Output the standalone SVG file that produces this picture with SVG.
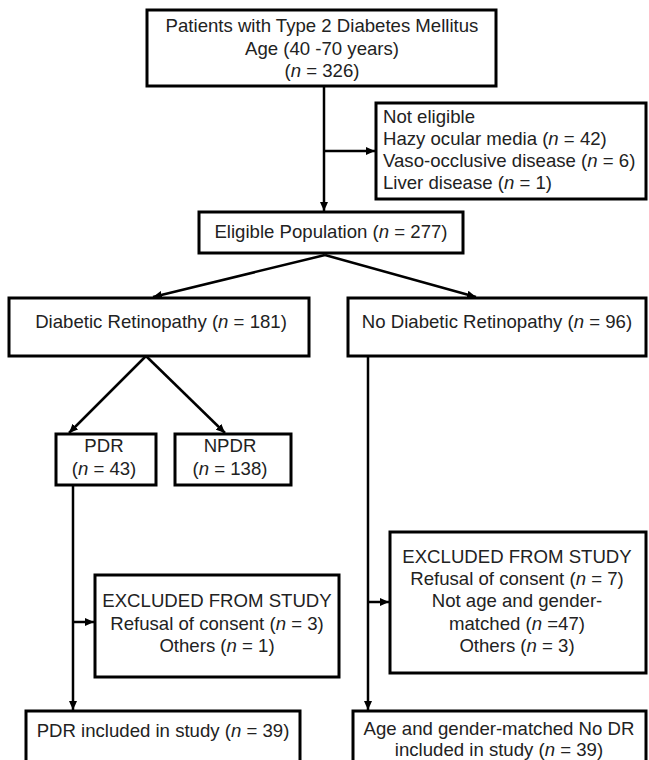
<svg xmlns="http://www.w3.org/2000/svg" width="649" height="760" viewBox="0 0 649 760">
<style>
.box{fill:#fff;stroke:#000;stroke-width:3}
.t{font-family:"Liberation Sans",Arial,sans-serif;font-size:18.6px;fill:#222}
.c{text-anchor:middle}
.i{font-style:italic}
.ln{fill:none;stroke:#000;stroke-width:2.5}
</style>
<defs>
<marker id="ah" markerUnits="userSpaceOnUse" markerWidth="9" markerHeight="8" refX="9" refY="4" orient="auto">
<path d="M0,0 L9,4 L0,8 z" fill="#000"/>
</marker>
</defs>
<g id="connectors">
<path class="ln" d="M324,86 V211" marker-end="url(#ah)"/>
<path class="ln" d="M324,151 H375" marker-end="url(#ah)"/>
<path class="ln" d="M325,255 L153,297" marker-end="url(#ah)"/>
<path class="ln" d="M325,255 L476,297" marker-end="url(#ah)"/>
<path class="ln" d="M146,356 L69,433" marker-end="url(#ah)"/>
<path class="ln" d="M146,356 L225,433" marker-end="url(#ah)"/>
<path class="ln" d="M73,485 V710" marker-end="url(#ah)"/>
<path class="ln" d="M73,622 H94" marker-end="url(#ah)"/>
<path class="ln" d="M368,356 V710" marker-end="url(#ah)"/>
<path class="ln" d="M368,602 H389" marker-end="url(#ah)"/>
</g>
<g id="patients">
<rect class="box" x="147" y="10" width="349" height="76"/>
<text class="t c" x="322" y="32">Patients with Type 2 Diabetes Mellitus</text>
<text class="t c" x="322" y="55">Age (40 -70 years)</text>
<text class="t c" x="322" y="77">(<tspan class="i">n</tspan> = 326)</text>
</g>
<g id="not-eligible">
<rect class="box" x="376" y="103" width="270" height="96"/>
<text class="t" x="383" y="123">Not eligible</text>
<text class="t" x="383" y="145">Hazy ocular media (<tspan class="i">n</tspan> = 42)</text>
<text class="t" x="383" y="167">Vaso-occlusive disease (<tspan class="i">n</tspan> = 6)</text>
<text class="t" x="383" y="189">Liver disease (<tspan class="i">n</tspan> = 1)</text>
</g>
<g id="eligible">
<rect class="box" x="199" y="212" width="264" height="41"/>
<text class="t c" x="331" y="238">Eligible Population (<tspan class="i">n</tspan> = 277)</text>
</g>
<g id="dr">
<rect class="box" x="9" y="298" width="300" height="58"/>
<text class="t c" x="161" y="328">Diabetic Retinopathy (<tspan class="i">n</tspan> = 181)</text>
</g>
<g id="no-dr">
<rect class="box" x="348" y="298" width="298" height="58"/>
<text class="t c" x="497" y="328">No Diabetic Retinopathy (<tspan class="i">n</tspan> = 96)</text>
</g>
<g id="pdr">
<rect class="box" x="56" y="434" width="100" height="51"/>
<text class="t c" x="104" y="452">PDR</text>
<text class="t c" x="104" y="475">(<tspan class="i">n</tspan> = 43)</text>
</g>
<g id="npdr">
<rect class="box" x="175" y="434" width="116" height="51"/>
<text class="t c" x="230" y="452">NPDR</text>
<text class="t c" x="230" y="475">(<tspan class="i">n</tspan> = 138)</text>
</g>
<g id="excluded-pdr">
<rect class="box" x="95" y="575" width="244" height="102"/>
<text class="t c" x="217" y="607">EXCLUDED FROM STUDY</text>
<text class="t c" x="217" y="630">Refusal of consent (<tspan class="i">n</tspan> = 3)</text>
<text class="t c" x="217" y="652">Others (<tspan class="i">n</tspan> = 1)</text>
</g>
<g id="excluded-nodr">
<rect class="box" x="390" y="532" width="256" height="141"/>
<text class="t c" x="517" y="563">EXCLUDED FROM STUDY</text>
<text class="t c" x="517" y="585">Refusal of consent (<tspan class="i">n</tspan> = 7)</text>
<text class="t c" x="517" y="607">Not age and gender-</text>
<text class="t c" x="517" y="630">matched (<tspan class="i">n</tspan> =47)</text>
<text class="t c" x="517" y="652">Others (<tspan class="i">n</tspan> = 3)</text>
</g>
<g id="pdr-included">
<rect class="box" x="26" y="711" width="274" height="56"/>
<text class="t c" x="163" y="737">PDR included in study (<tspan class="i">n</tspan> = 39)</text>
</g>
<g id="nodr-included">
<rect class="box" x="353" y="711" width="293" height="56"/>
<text class="t c" x="499" y="735">Age and gender-matched No DR</text>
<text class="t c" x="499" y="756">included in study (<tspan class="i">n</tspan> = 39)</text>
</g>
</svg>
